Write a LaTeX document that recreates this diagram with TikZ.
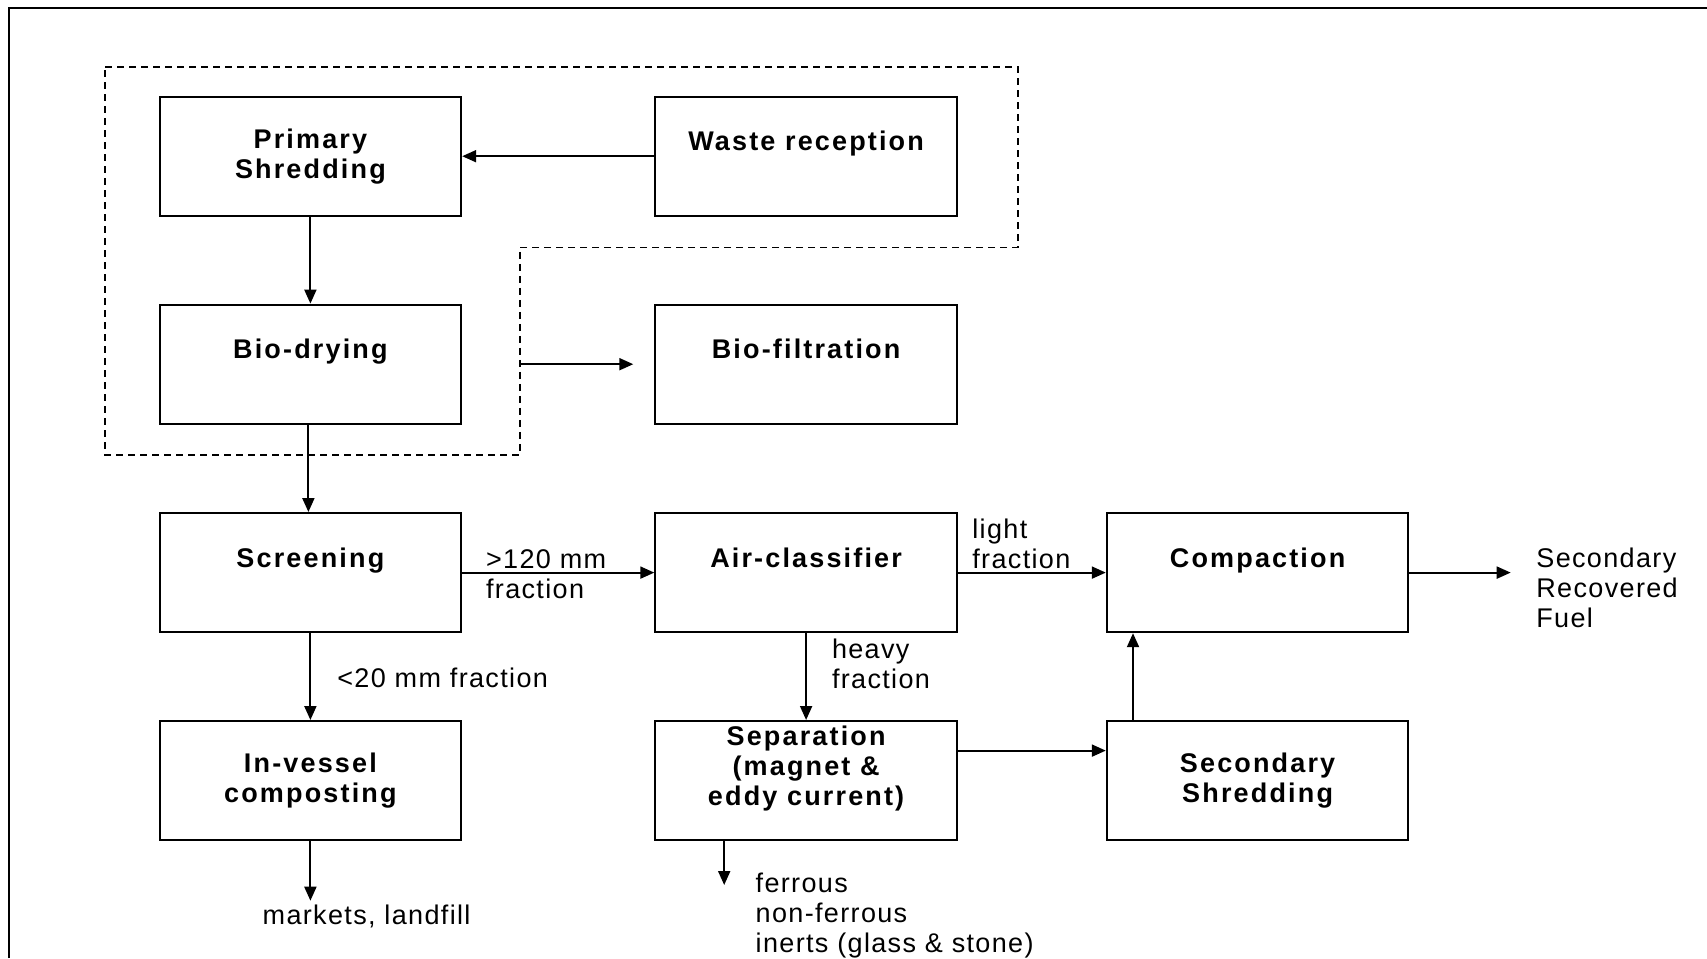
\documentclass[tikz,border=0pt]{standalone}
\usepackage{fontspec}
\setmainfont{Liberation Sans}[LetterSpace=5, BoldFeatures={LetterSpace=8}]
\usetikzlibrary{arrows.meta}
\begin{document}
\begin{tikzpicture}[x=0.5pt,y=-0.5pt,
  every node/.style={font=\fontsize{13.5}{15}\selectfont},
  procbox/.style={draw, line width=1pt, minimum width=150.8pt, minimum height=59.6pt, inner sep=0pt, align=center, font=\fontsize{13.5}{15}\selectfont\bfseries},
  lbl/.style={anchor=west, align=left, inner sep=0pt},
  arr/.style={line width=1pt, -{Triangle[length=7pt,width=6pt]}},
  dashbound/.style={line width=0.8pt, dash pattern=on 3.5pt off 2.5pt}
]
\useasboundingbox (0,0) rectangle (1707,958);
\fill[white] (0,0) rectangle (1707,958);
% outer frame
\draw[line width=1pt] (8.5,958) -- (8.5,7.5) -- (1707,7.5);
% dashed boundary
\draw[dashbound] (105.2,66.7) -- (1017.9,66.7) -- (1017.9,247.3) -- (519.7,247.3) -- (519.7,455) -- (105.2,455) -- cycle;

% boxes
\node[procbox] (ps)  at (310.4,156.2) {Primary\\Shredding};
\node[procbox] (wr)  at (806.1,156.2) {Waste reception\\~};
\node[procbox] (bd)  at (310.4,364.2) {Bio-drying\\~};
\node[procbox] (bf)  at (806.1,364.2) {Bio-filtration\\~};
\node[procbox] (sc)  at (310.4,572.6) {Screening\\~};
\node[procbox] (ac)  at (806.1,572.6) {Air-classifier\\~};
\node[procbox] (cp)  at (1257.6,572.6) {Compaction\\~};
\node[procbox] (iv)  at (310.4,780.6) {In-vessel\\composting};
\node[procbox] (sep) at (806.1,780.6) {Separation\\(magnet \&\\eddy current)\\~};
\node[procbox] (ss)  at (1257.6,780.6) {Secondary\\Shredding};

% free ends
\coordinate (dj) at (519.7,364.2);
\coordinate (mk) at (310.4,900.7);
\coordinate (srf) at (1510.7,572.6);
\coordinate (fe) at (724.2,885);
\coordinate (up) at (1133,700);

% connectors
\draw[arr] (wr.west) -- (ps.east);
\draw[arr] (ps.south) -- (bd.north);
\draw[arr] ([xshift=-1pt]bd.south) -- ([xshift=-1pt]sc.north);
\draw[arr, shorten >=10.5pt] (dj) -- (dj -| bf.west);
\draw[arr] (sc.east) -- (ac.west);
\draw[arr] (sc.south) -- (iv.north);
\draw[arr] (iv.south) -- (mk);
\draw[arr] (ac.south) -- (sep.north);
\draw[arr] (ac.east) -- (cp.west);
\draw[arr] (cp.east) -- (srf);
\draw[arr] ([yshift=15pt]sep.east) -- ([yshift=15pt]ss.west);
\draw[arr] (up |- ss.north) -- (up |- cp.south);
\draw[arr] (fe |- sep.south) -- (fe);

% labels
\node[lbl] (l120) at (485.7,574) {>120 mm\\fraction};
\node[lbl] (l20) at (337,678.3) {<20 mm fraction};
\node[inner sep=0pt] (lmk) at (366.6,916) {markets, landfill};
\node[lbl] (lheavy) at (831.6,663.8) {heavy\\fraction};
\node[lbl] (llight) at (972,544.3) {light\\fraction};
\node[lbl] (lsrf) at (1536,588.3) {Secondary\\Recovered\\Fuel};
\node[lbl] (lfe) at (755.3,916) {ferrous\\non-ferrous\\inerts (glass \& stone)};
\end{tikzpicture}
\end{document}
